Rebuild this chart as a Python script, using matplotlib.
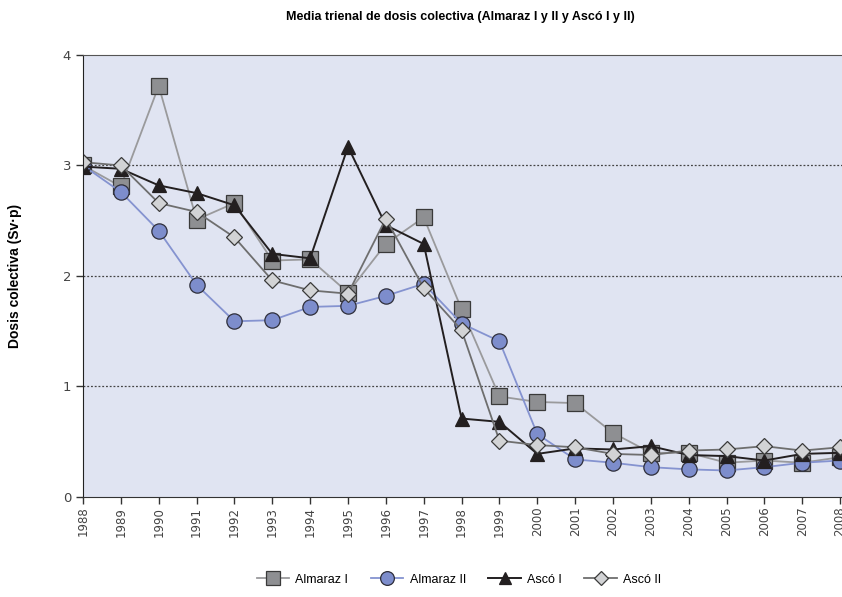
import numpy as np
import matplotlib.pyplot as plt

years = list(range(1988, 2009))

almaraz_1 = [3.00, 2.81, 3.72, 2.51, 2.66, 2.14, 2.15, 1.85, 2.29, 2.53, 1.70,
             0.91, 0.86, 0.85, 0.58, 0.40, 0.40, 0.31, 0.33, 0.31, 0.36]
almaraz_2 = [3.00, 2.76, 2.41, 1.92, 1.59, 1.60, 1.72, 1.73, 1.82, 1.93, 1.57,
             1.41, 0.57, 0.34, 0.31, 0.27, 0.25, 0.24, 0.27, 0.31, 0.33]
asco_1 = [2.99, 2.97, 2.82, 2.75, 2.64, 2.20, 2.16, 3.17, 2.46, 2.29, 0.71,
          0.68, 0.39, 0.44, 0.43, 0.46, 0.38, 0.37, 0.33, 0.39, 0.40]
asco_2 = [3.03, 3.00, 2.66, 2.58, 2.35, 1.96, 1.87, 1.84, 2.52, 1.89, 1.51,
          0.51, 0.47, 0.45, 0.39, 0.38, 0.42, 0.43, 0.46, 0.42, 0.45]

plt.rcParams['font.family'] = ['Liberation Sans', 'DejaVu Sans']

fig = plt.figure(figsize=(8.42, 5.97), dpi=100)
ax = fig.add_axes([0.0986, 0.1675, 0.9014, 0.7404])
ax.set_facecolor('#e0e4f2')

ax.plot(years, almaraz_1, color='#9a9a9c', lw=1.3, marker='s', ms=11,
        mfc='#8e8f92', mec='#3a3a3a', mew=0.9, label='Almaraz I')
ax.plot(years, almaraz_2, color='#8593d0', lw=1.3, marker='o', ms=11,
        mfc='#7d8dcc', mec='#2e2e3a', mew=0.9, label='Almaraz II')
ax.plot(years, asco_1, color='#231f20', lw=1.4, marker='^', ms=10,
        mfc='#231f20', mec='#231f20', mew=0.9, label='Ascó I')
ax.plot(years, asco_2, color='#6e6e6e', lw=1.3, marker='D', ms=8,
        mfc='#d2d3d5', mec='#3a3a3a', mew=0.9, label='Ascó II')

ax.set_xlim(1988, 2008.05)
ax.set_ylim(0, 4)
ax.set_xticks(years)
ax.set_xticklabels([str(y) for y in years], rotation=90, fontsize=8.5,
                   color='#444444', family='DejaVu Sans')
ax.set_yticks([0, 1, 2, 3, 4])
ax.set_yticklabels(['0', '1', '2', '3', '4'], fontsize=9.5, color='#444444',
                   family='DejaVu Sans')
ax.tick_params(axis='both', direction='out', length=5, color='#333333', width=1)
ax.tick_params(axis='x', pad=2)
for y in [1, 2, 3]:
    ax.axhline(y, color='#444444', lw=0.9, ls=(0, (1.5, 1.5)), zorder=1)

ax.spines['right'].set_visible(False)
ax.spines['top'].set_color('#555555')
ax.spines['left'].set_color('#222222')
ax.spines['bottom'].set_color('#333333')

ax.set_ylabel('Dosis colectiva (Sv·p)', fontsize=10, fontweight='bold')
ax.yaxis.set_label_coords(-0.08, 0.5)
fig.suptitle('Media trienal de dosis colectiva (Almaraz I y II y Ascó I y II)',
             x=0.547, y=0.982, fontsize=9, fontweight='bold')

fig.legend(loc='lower center', bbox_to_anchor=(0.545, 0.0), ncol=4, frameon=False,
           fontsize=9, handlelength=2.6, columnspacing=1.8, handletextpad=0.5,
           markerscale=0.9)

fig.savefig('out.png', dpi=100)
